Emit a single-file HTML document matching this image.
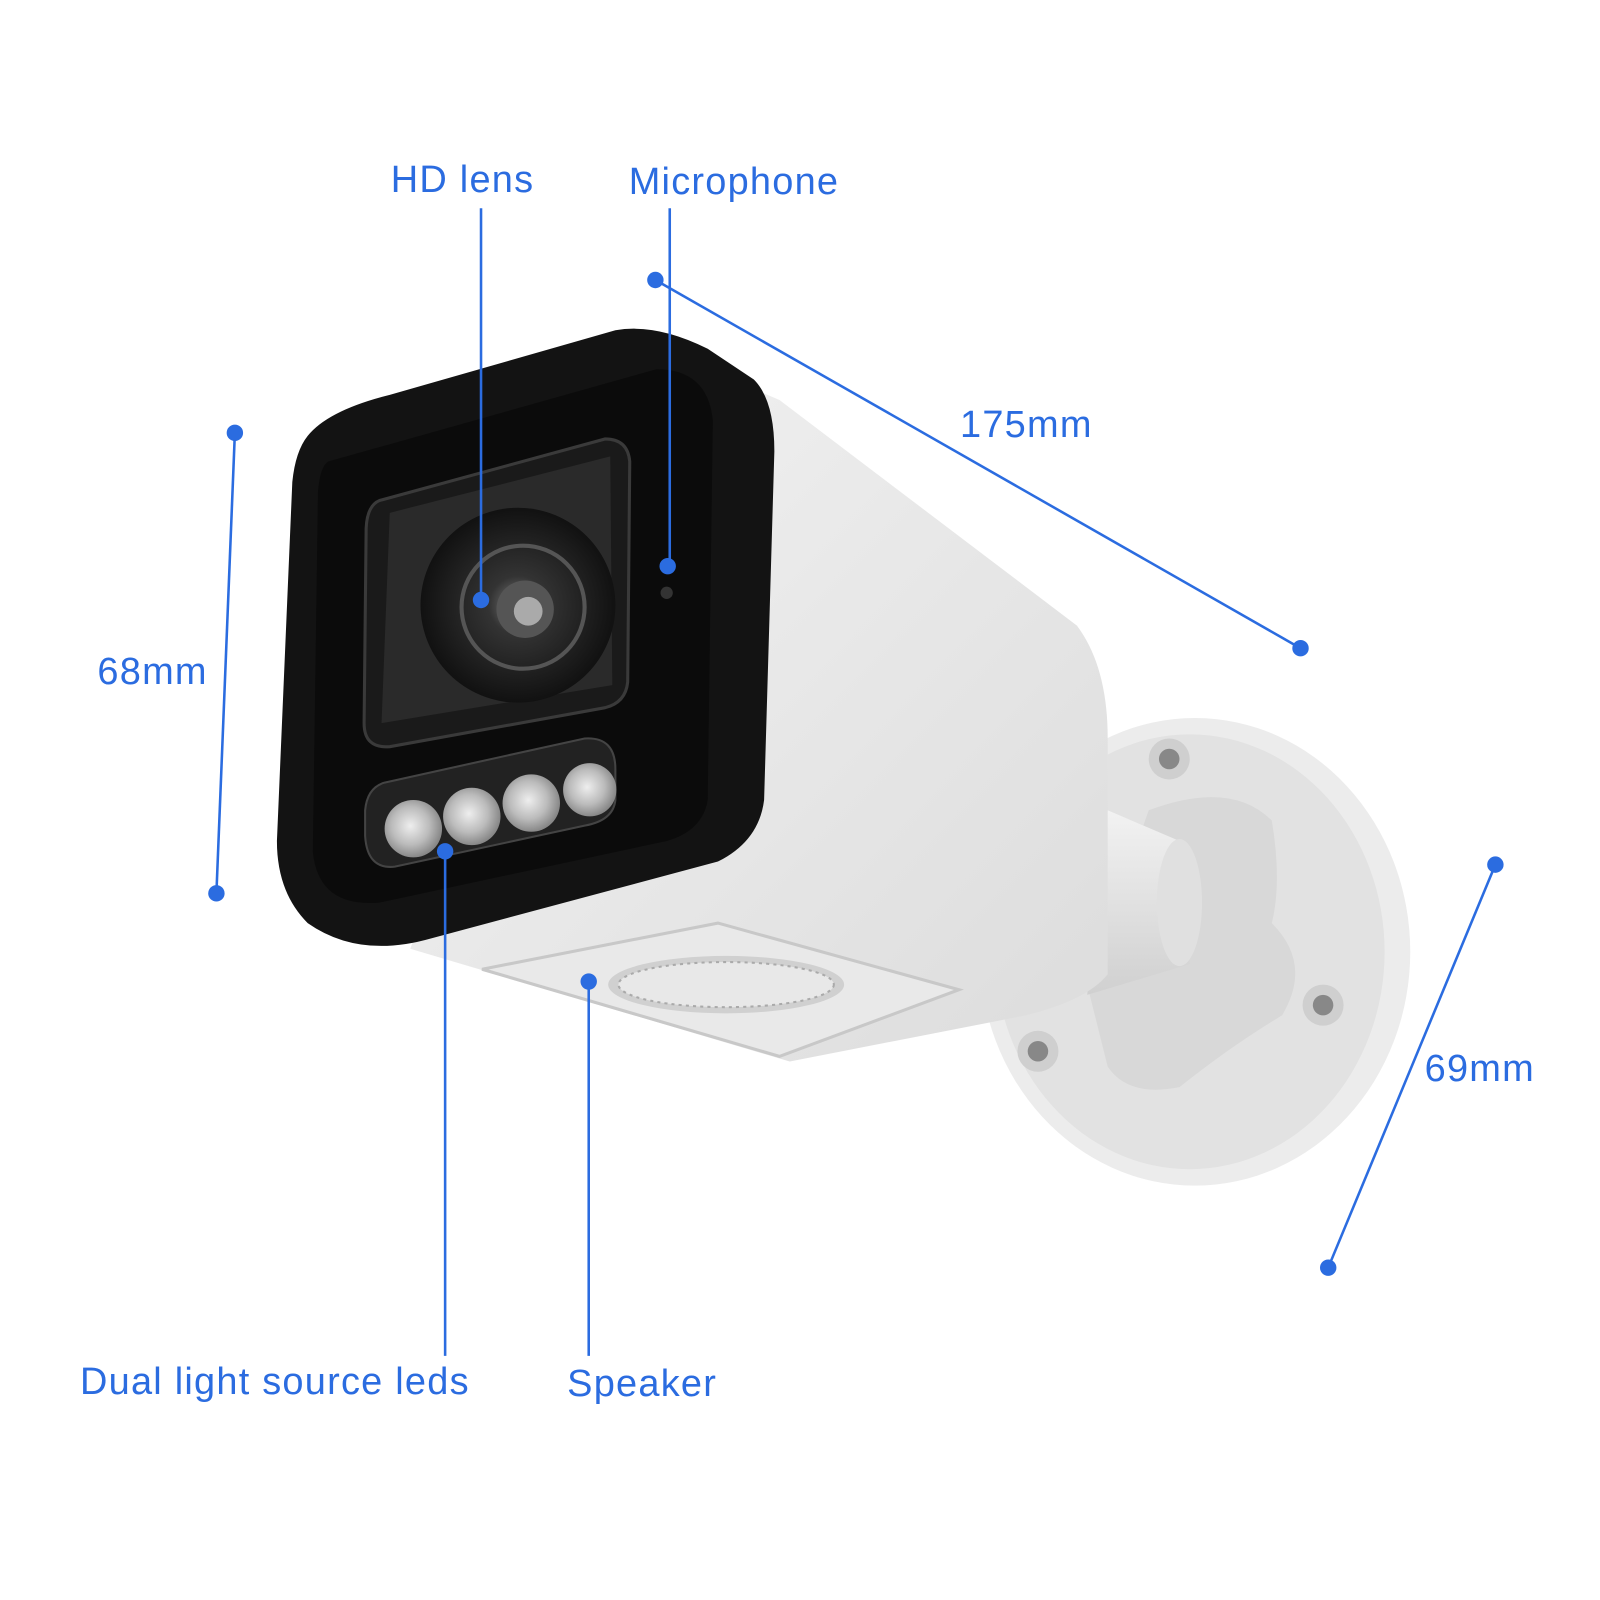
<!DOCTYPE html>
<html><head><meta charset="utf-8"><style>html,body{margin:0;padding:0;background:#fff}svg{display:block}</style></head>
<body>
<svg width="1600" height="1600" viewBox="0 0 1560 1560" xmlns="http://www.w3.org/2000/svg">
<defs>
<linearGradient id="body" x1="0" y1="0" x2="1" y2="1"><stop offset="0" stop-color="#f4f4f4"/><stop offset="1" stop-color="#dcdcdc"/></linearGradient>
<linearGradient id="arm" x1="0" y1="0" x2="0" y2="1"><stop offset="0" stop-color="#f2f2f2"/><stop offset="1" stop-color="#d0d0d0"/></linearGradient>
<radialGradient id="lens" cx="0.5" cy="0.5" r="0.5"><stop offset="0" stop-color="#777"/><stop offset="0.3" stop-color="#333"/><stop offset="1" stop-color="#111"/></radialGradient>
<radialGradient id="led" cx="0.45" cy="0.45" r="0.55"><stop offset="0" stop-color="#eee"/><stop offset="0.6" stop-color="#bbb"/><stop offset="1" stop-color="#888"/></radialGradient>
</defs>
<!-- wall mount -->
<ellipse cx="1165" cy="928" rx="210" ry="228" fill="#ececec"/>
<ellipse cx="1160" cy="928" rx="190" ry="212" fill="#e2e2e2"/>
<path d="M1120 790 Q1200 760 1240 800 Q1250 860 1240 900 Q1280 940 1250 990 Q1200 1020 1150 1060 Q1100 1070 1080 1040 L1060 960 Z" fill="#d8d8d8"/>
<path d="M1080 790 L1150 820 L1160 940 L1060 970 Z" fill="url(#arm)"/>
<ellipse cx="1150" cy="880" rx="22" ry="62" fill="#e0e0e0"/>
<circle cx="1140" cy="740" r="20" fill="#cfcfcf"/><circle cx="1140" cy="740" r="10" fill="#888"/>
<circle cx="1290" cy="980" r="20" fill="#cfcfcf"/><circle cx="1290" cy="980" r="10" fill="#888"/>
<circle cx="1012" cy="1025" r="20" fill="#cfcfcf"/><circle cx="1012" cy="1025" r="10" fill="#888"/>
<!-- body -->
<path d="M620 330 L760 390 L1050 610 Q1080 650 1080 720 L1080 950 Q1060 975 1000 990 L770 1035 L400 925 Z" fill="url(#body)"/>
<path d="M470 945 L700 900 L935 965 L760 1030 Z" fill="#e9e9e9" stroke="#c8c8c8" stroke-width="3"/>
<ellipse cx="708" cy="960" rx="115" ry="28" fill="#d0d0d0"/>
<ellipse cx="708" cy="960" rx="105" ry="22" fill="#e8e8e8" stroke="#aaa" stroke-width="2" stroke-dasharray="3 4"/>
<!-- black front -->
<path d="M300 425 Q320 400 380 385 L600 322 Q640 315 690 340 L735 370 Q755 390 755 440 L745 780 Q740 820 700 840 L420 915 Q350 935 300 900 Q270 870 270 820 L285 470 Q288 440 300 425 Z" fill="#131313"/>
<path d="M320 450 L640 360 Q690 360 695 410 L690 780 Q685 810 650 820 L370 880 Q310 885 305 830 L310 480 Q312 455 320 450 Z" fill="#0b0b0b"/>
<!-- lens window -->
<path d="M370 488 L590 428 Q612 428 614 450 L612 665 Q610 685 590 690 L380 728 Q355 730 355 705 L357 515 Q358 493 370 488 Z" fill="#1a1a1a" stroke="#3a3a3a" stroke-width="3"/>
<path d="M380 500 L595 445 L597 668 L372 705 Z" fill="#2a2a2a"/>
<circle cx="505" cy="590" r="95" fill="url(#lens)"/>
<circle cx="510" cy="592" r="60" fill="none" stroke="#555" stroke-width="4"/>
<circle cx="512" cy="594" r="28" fill="#555"/>
<circle cx="515" cy="596" r="14" fill="#aaa"/>
<circle cx="650" cy="578" r="6" fill="#333"/>
<!-- LED bar -->
<path d="M375 763 L570 720 Q600 718 600 750 L600 780 Q598 800 570 805 L385 845 Q358 848 356 815 L356 790 Q358 768 375 763 Z" fill="#222" stroke="#444" stroke-width="2"/>
<circle cx="403" cy="808" r="28" fill="url(#led)"/>
<circle cx="460" cy="796" r="28" fill="url(#led)"/>
<circle cx="518" cy="783" r="28" fill="url(#led)"/>
<circle cx="575" cy="770" r="26" fill="url(#led)"/>
<!-- annotation lines -->
<g stroke="#2b6ce0" stroke-width="2.5" fill="none">
<line x1="469" y1="203" x2="469" y2="585"/>
<line x1="653" y1="203" x2="653" y2="552"/>
<line x1="639" y1="273" x2="1268" y2="632"/>
<line x1="229" y1="422" x2="211" y2="871"/>
<line x1="1458" y1="843" x2="1295" y2="1236"/>
<line x1="434" y1="830" x2="434" y2="1322"/>
<line x1="574" y1="957" x2="574" y2="1322"/>
</g>
<g fill="#2b6ce0">
<circle cx="469" cy="585" r="8"/><circle cx="651" cy="552" r="8"/>
<circle cx="639" cy="273" r="8"/><circle cx="1268" cy="632" r="8"/>
<circle cx="229" cy="422" r="8"/><circle cx="211" cy="871" r="8"/>
<circle cx="1458" cy="843" r="8"/><circle cx="1295" cy="1236" r="8"/>
<circle cx="434" cy="830" r="8"/><circle cx="574" cy="957" r="8"/>
</g>
<g fill="#2b6ce0" font-family="Liberation Sans, sans-serif" font-size="37" letter-spacing="1.2">
<text x="381" y="187">HD lens</text>
<text x="613" y="189">Microphone</text>
<text x="936" y="426">175mm</text>
<text x="95" y="667">68mm</text>
<text x="1389" y="1054">69mm</text>
<text x="78" y="1359">Dual light source leds</text>
<text x="553" y="1361">Speaker</text>
</g>
</svg>
</body></html>
